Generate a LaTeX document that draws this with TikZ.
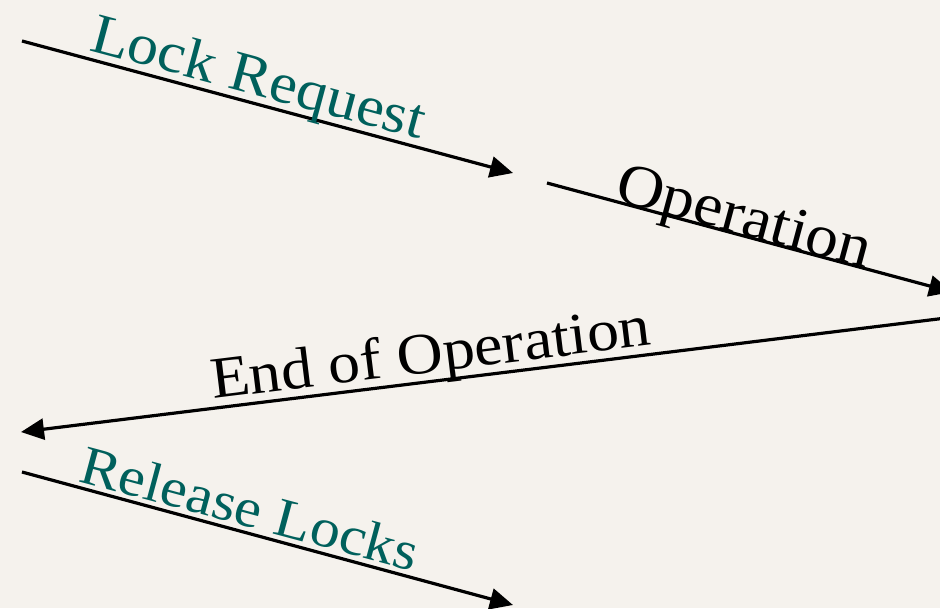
\documentclass[tikz,border=0pt]{standalone}
\usepackage{fontspec}
\setmainfont{Liberation Serif}
\newfontfamily\palfont[FakeStretch=1.09]{Liberation Serif}
\usetikzlibrary{arrows.meta}
\definecolor{bgpaper}{RGB}{245,242,237}
\definecolor{tealtext}{RGB}{0,96,92}
\tikzset{
  arr/.style={line width=3.2pt, draw=black, -{Triangle[length=23pt,width=21pt]}},
  lbl/.style={inner sep=0pt, anchor=base west, font=\palfont\fontsize{58}{60}\selectfont},
}
\begin{document}
\begin{tikzpicture}[x=1pt,y=-1pt]
\fill[bgpaper] (0,0) rectangle (940,608);
\useasboundingbox (0,0) rectangle (940,608);
\clip (0,0) rectangle (940,608);
% connectors
\coordinate (a1s) at (22,41);
\coordinate (a1e) at (513,173);
\coordinate (a2s) at (547,183);
\coordinate (a2e) at (952,292);
\coordinate (a3s) at (946,318);
\coordinate (a3e) at (21,432);
\coordinate (a4s) at (22,472);
\coordinate (a4e) at (513,605);
\draw[arr] (a1s) -- (a1e);
\draw[arr] (a2s) -- (a2e);
\draw[arr] (a3s) -- (a3e);
\draw[arr] (a4s) -- (a4e);
% labels
\node[lbl, text=tealtext, rotate=-15.06, font=\palfont\fontsize{57}{60}\selectfont] (t1) at (88,50) {Lock Request};
\node[lbl, text=black, rotate=-15.06, font=\palfont\fontsize{60}{62}\selectfont] (t2) at (613,200) {Operation};
\node[lbl, text=black, rotate=7.0, font=\palfont\fontsize{58.5}{60}\selectfont] (t3) at (213,399) {End of Operation};
\node[lbl, text=tealtext, rotate=-15.06, font=\palfont\fontsize{55}{60}\selectfont] (t4) at (77,481) {Release Locks};
\end{tikzpicture}
\end{document}
